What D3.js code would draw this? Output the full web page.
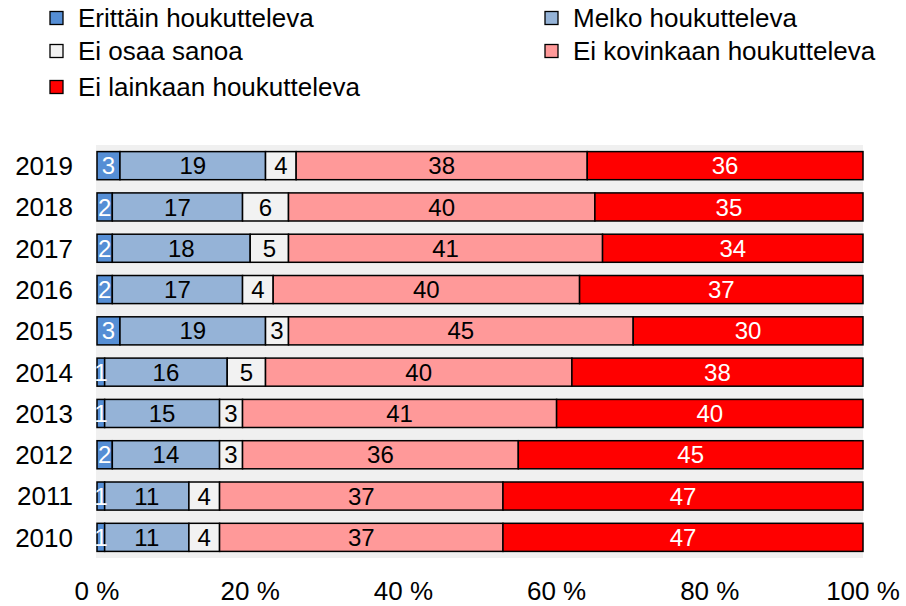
<!DOCTYPE html>
<html>
<head>
<meta charset="utf-8">
<script src="https://cdn.jsdelivr.net/npm/d3@7"></script>
<style>
  body { margin: 0; background: #fff; }
  text { font-family: "Liberation Sans", Arial, sans-serif; }
</style>
</head>
<body>
<div id="chart"></div>
<script>
var years = ["2019", "2018", "2017", "2016", "2015", "2014", "2013", "2012", "2011", "2010"];
var seriesNames = ["Erittäin houkutteleva", "Melko houkutteleva", "Ei osaa sanoa", "Ei kovinkaan houkutteleva", "Ei lainkaan houkutteleva"];
var erittain = [3, 2, 2, 2, 3, 1, 1, 2, 1, 1];
var melko = [19, 17, 18, 17, 19, 16, 15, 14, 11, 11];
var eiOsaa = [4, 6, 5, 4, 3, 5, 3, 3, 4, 4];
var eiKovin = [38, 40, 41, 40, 45, 40, 41, 36, 37, 37];
var eiLainkaan = [36, 35, 34, 37, 30, 38, 40, 45, 47, 47];
var ticks = [0, 20, 40, 60, 80, 100];

var colors = ["#558ed5", "#95b3d7", "#f2f2f2", "#ff9999", "#ff0000"];
var labelColors = ["#fff", "#000", "#000", "#000", "#fff"];

var W = 906, H = 606;
var margin = {top: 145, right: 43, bottom: 48, left: 97};

var svg = d3.select("#chart").append("svg")
    .attr("width", W)
    .attr("height", H);

// build rows from the arrays
var allSeries = [erittain, melko, eiOsaa, eiKovin, eiLainkaan];
var rows = years.map(function(y, i) {
    var r = {year: y};
    seriesNames.forEach(function(s, k) { r[s] = allSeries[k][i]; });
    return r;
});
var stacked = d3.stack().keys(seriesNames)(rows);

var x = d3.scaleLinear()
    .domain([0, 100])
    .range([margin.left, W - margin.right]);

var y = d3.scaleBand()
    .domain(years)
    .range([margin.top, H - margin.bottom])
    .paddingInner(0.32)
    .paddingOuter(0.16);

// plot area background
var step = y.step();
svg.append("rect")
    .attr("x", x(0) - 1)
    .attr("y", margin.top)
    .attr("width", x(100) - x(0) + 1)
    .attr("height", step * years.length)
    .attr("fill", "#f0f0f0");

var layer = svg.append("g")
    .selectAll("g")
    .data(stacked)
    .enter().append("g")
    .attr("fill", function(d, i) { return colors[i]; });

layer.selectAll("rect")
    .data(function(d) { return d; })
    .enter().append("rect")
        .attr("x", function(d) { return x(d[0]); })
        .attr("y", function(d) { return y(d.data.year); })
        .attr("width", function(d) { return x(d[1]) - x(d[0]); })
        .attr("height", y.bandwidth())
        .attr("stroke", "#000")
        .attr("stroke-width", 1.5);

// value labels
stacked.forEach(function(s, i) {
    svg.append("g")
        .selectAll("text")
        .data(s)
        .enter().append("text")
            .attr("x", function(d) { return (x(d[0]) + x(d[1])) / 2; })
            .attr("y", function(d) { return y(d.data.year) + y.bandwidth() / 2; })
            .attr("dy", "0.36em")
            .attr("text-anchor", "middle")
            .style("font-size", "24px")
            .attr("fill", labelColors[i])
            .text(function(d) { return d[1] - d[0]; });
});

// year labels
svg.append("g")
    .selectAll("text")
    .data(years)
    .enter().append("text")
        .attr("x", x(0) - 24)
        .attr("y", function(d) { return y(d) + y.bandwidth() / 2; })
        .attr("dy", "0.36em")
        .attr("text-anchor", "end")
        .style("font-size", "26px")
        .text(function(d) { return d; });

// x axis tick labels
var tickLabels = svg.append("g")
    .selectAll("text")
    .data(ticks)
    .enter().append("text")
        .attr("x", function(d) { return x(d); })
        .attr("y", 600)
        .attr("text-anchor", "middle")
        .style("font-size", "26px")
        .text(function(d) { return d + " %"; });
// keep last label inside the picture
tickLabels.each(function() {
    var len = this.getComputedTextLength();
    var cx = +d3.select(this).attr("x");
    if (cx + len / 2 > W - 6) d3.select(this).attr("x", W - 6 - len / 2);
});

// legend
var legendPos = [[50, 18], [545, 18], [50, 51], [545, 51], [50, 87]];
var legend = svg.append("g")
    .selectAll("g")
    .data(seriesNames)
    .enter().append("g")
    .attr("transform", function(d, i) { return "translate(" + legendPos[i][0] + "," + legendPos[i][1] + ")"; });

legend.append("rect")
    .attr("x", 0)
    .attr("y", -6.5)
    .attr("width", 13)
    .attr("height", 13)
    .attr("fill", function(d, i) { return colors[i]; })
    .attr("stroke", "#000")
    .attr("stroke-width", 1.3);

legend.append("text")
    .attr("x", 28)
    .attr("dy", "0.36em")
    .style("font-size", "26px")
    .text(function(d) { return d; });
</script>
</body>
</html>
